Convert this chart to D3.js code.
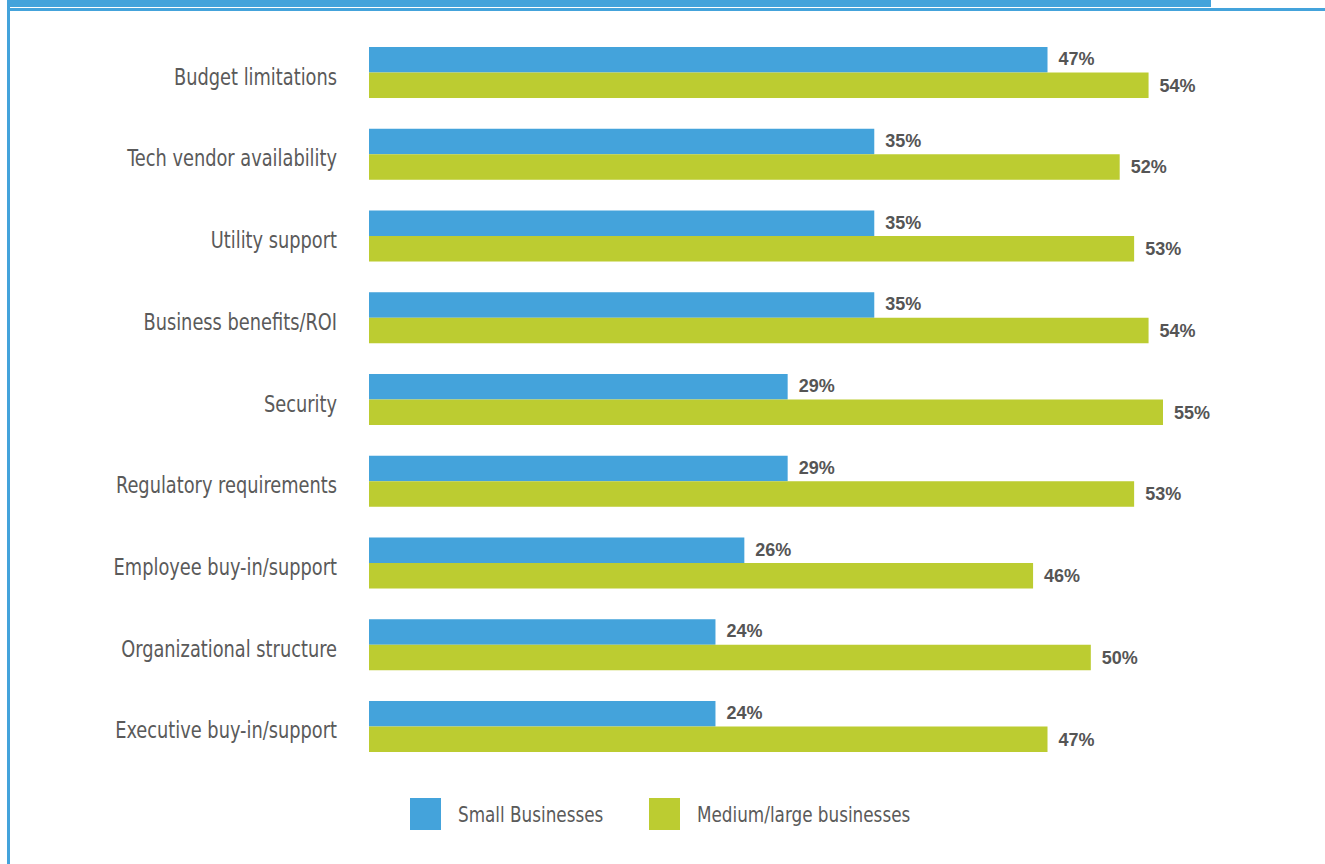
<!DOCTYPE html>
<html>
<head>
<meta charset="utf-8">
<script src="https://cdn.jsdelivr.net/npm/d3@7"></script>
<style>
  body { margin: 0; background: #fff; }
  svg { display: block; }
</style>
</head>
<body>
<svg id="chart"></svg>
<script>
const categories = [
  "Budget limitations",
  "Tech vendor availability",
  "Utility support",
  "Business benefits/ROI",
  "Security",
  "Regulatory requirements",
  "Employee buy-in/support",
  "Organizational structure",
  "Executive buy-in/support"
];
const smallValues = [47, 35, 35, 35, 29, 29, 26, 24, 24];
const largeValues = [54, 52, 53, 54, 55, 53, 46, 50, 47];
const seriesNames = ["Small Businesses", "Medium/large businesses"];
const colors = ["#44a3db", "#bccc31"];

const width = 1325, height = 864;
const svg = d3.select("#chart").attr("width", width).attr("height", height);

// frame: clipped header band, rule underneath, left border
svg.append("rect").attr("x", 7).attr("y", 0).attr("width", 1204).attr("height", 7).attr("fill", "#44a3db");
svg.append("rect").attr("x", 7).attr("y", 8).attr("width", width - 7).attr("height", 3).attr("fill", "#44a3db");
svg.append("rect").attr("x", 7).attr("y", 0).attr("width", 3).attr("height", height).attr("fill", "#44a3db");

const x = d3.scaleLinear().domain([0, 55]).range([369, 1163]);
const y = d3.scaleBand().domain(categories).range([47, 752]).paddingInner(0.376).paddingOuter(0);
const bh = y.bandwidth() / 2;

const labelFont = "'Liberation Sans Narrow', 'DejaVu Sans Condensed', 'Arial Narrow', sans-serif";

// category labels (squeezed a little to look like the condensed original)
svg.append("g")
  .selectAll("text")
  .data(categories)
  .join("text")
  .attr("transform", d => `translate(337,${y(d) + bh + 12}) scale(0.86,1)`)
  .attr("text-anchor", "end")
  .attr("font-family", labelFont)
  .attr("font-size", 23)
  .attr("fill", "#5a5a5a")
  .text(d => d);

const series = [smallValues, largeValues];
series.forEach((vals, s) => {
  const g = svg.append("g");
  g.selectAll("rect")
    .data(vals)
    .join("rect")
    .attr("x", x(0))
    .attr("y", (d, i) => y(categories[i]) + s * bh)
    .attr("width", d => x(d) - x(0))
    .attr("height", bh)
    .attr("fill", colors[s]);
  g.selectAll("text")
    .data(vals)
    .join("text")
    .attr("x", d => x(d) + 11)
    .attr("y", (d, i) => y(categories[i]) + s * bh + bh / 2 - (s === 0 ? 1 : 0))
    .attr("dy", "0.35em")
    .attr("font-family", "'Liberation Sans', Arial, sans-serif")
    .attr("font-weight", "bold")
    .attr("font-size", 18)
    .attr("fill", "#555")
    .text(d => d + "%");
});

// legend
const legendX = [410, 649];
const lg = svg.append("g");
seriesNames.forEach((name, i) => {
  lg.append("rect").attr("x", legendX[i]).attr("y", 798).attr("width", 31).attr("height", 32).attr("fill", colors[i]);
  lg.append("text")
    .attr("transform", `translate(${legendX[i] + 48},822) scale(0.85,1)`)
    .attr("font-family", labelFont)
    .attr("font-size", 22)
    .attr("fill", "#5a5a5a")
    .text(name);
});
</script>
</body>
</html>
